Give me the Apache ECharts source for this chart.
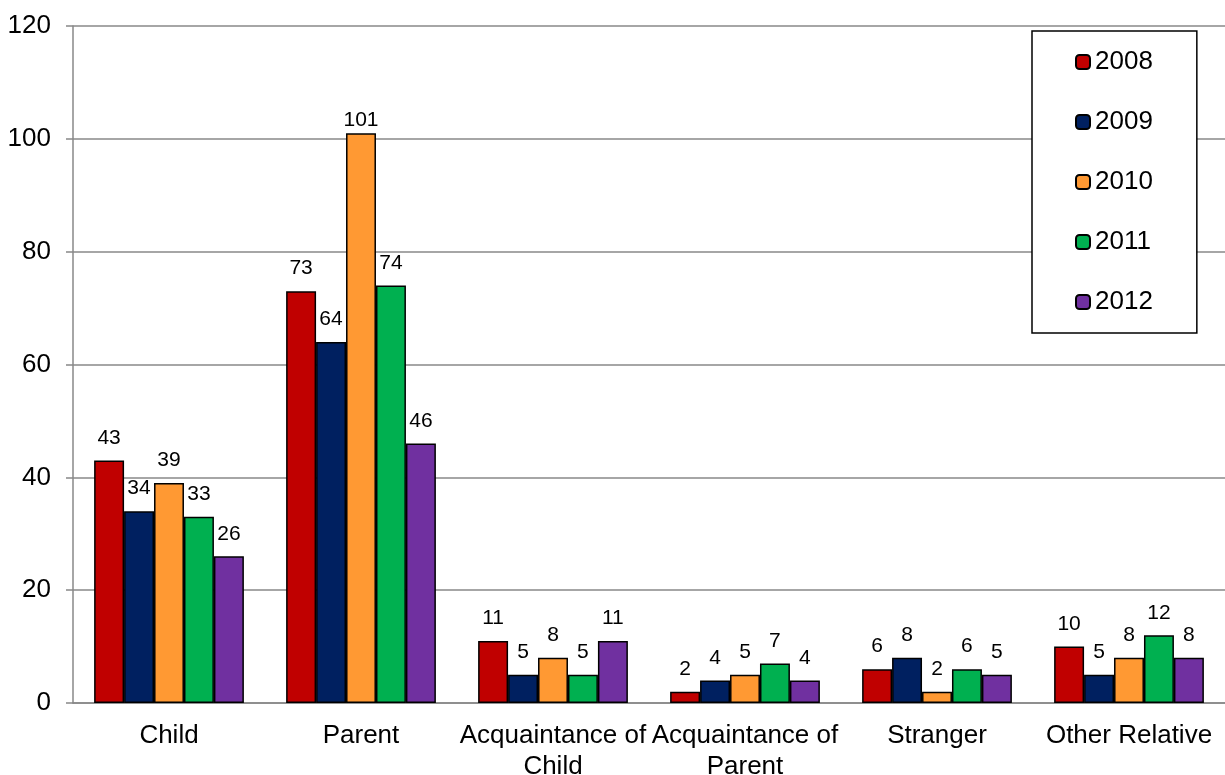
<!DOCTYPE html>
<html>
<head>
<meta charset="utf-8">
<script src="https://cdn.jsdelivr.net/npm/echarts@6/dist/echarts.min.js"></script>
<style>
  html, body { margin: 0; padding: 0; background: #fff; }
  #chart { width: 1225px; height: 775px; }
</style>
</head>
<body>
<div id="chart"></div>
<script>
// Relationship categories along the x axis
const categories = ['Child', 'Parent', 'Acquaintance of\nChild', 'Acquaintance of\nParent', 'Stranger', 'Other Relative'];

// Yearly counts per category
const years = ['2008', '2009', '2010', '2011', '2012'];
const values2008 = [43, 73, 11, 2, 6, 10];
const values2009 = [34, 64, 5, 4, 8, 5];
const values2010 = [39, 101, 8, 5, 2, 8];
const values2011 = [33, 74, 5, 7, 6, 12];
const values2012 = [26, 46, 11, 4, 5, 8];

const colors = ['#C00000', '#002060', '#FF9933', '#00B050', '#7030A0'];
const seriesValues = [values2008, values2009, values2010, values2011, values2012];

const Y_MAX = 120;
const FONT = 'Liberation Sans, Arial, sans-serif';

// Labels of bars that reach near the top of the plot are tucked in closer
function toItem(v) {
  if (v > Y_MAX - 22) {
    return { value: v, label: { distance: 2 } };
  }
  return v;
}

const chart = echarts.init(document.getElementById('chart'));

chart.setOption({
  animation: false,
  color: colors,
  textStyle: { fontFamily: FONT },
  grid: { left: 73, right: 0, top: 26, bottom: 72, outerBoundsMode: 'none' },
  legend: {
    orient: 'vertical',
    left: 1032,
    top: 31,
    padding: [18, 44, 18, 43],
    itemWidth: 14,
    itemHeight: 14,
    itemGap: 34,
    borderColor: '#000',
    borderWidth: 1.5,
    backgroundColor: '#fff',
    textStyle: { fontSize: 26, color: '#000', fontFamily: FONT },
    data: years
  },
  xAxis: {
    type: 'category',
    data: categories,
    axisLine: { lineStyle: { color: '#888', width: 1.5 } },
    axisTick: { length: 7, lineStyle: { color: '#888', width: 1.5 } },
    axisLabel: {
      interval: 0,
      margin: 17,
      fontSize: 26,
      lineHeight: 31,
      color: '#000',
      fontFamily: FONT,
      overflow: 'none'
    }
  },
  yAxis: {
    type: 'value',
    min: 0,
    max: Y_MAX,
    interval: 20,
    axisLine: { show: true, lineStyle: { color: '#888', width: 1.5 } },
    axisTick: { show: true, length: 7, lineStyle: { color: '#888', width: 1.5 } },
    splitLine: { lineStyle: { color: '#888', width: 1.5 } },
    axisLabel: { margin: 22, fontSize: 26, color: '#000', fontFamily: FONT }
  },
  series: years.map((y, i) => ({
    name: y,
    type: 'bar',
    data: seriesValues[i].map(toItem),
    barGap: '0%',
    barCategoryGap: '22%',
    itemStyle: { color: colors[i], borderColor: '#000', borderWidth: 1.5 },
    label: {
      show: true,
      position: 'top',
      distance: 12,
      fontSize: 21,
      color: '#000',
      fontFamily: FONT
    }
  }))
});
</script>
</body>
</html>
